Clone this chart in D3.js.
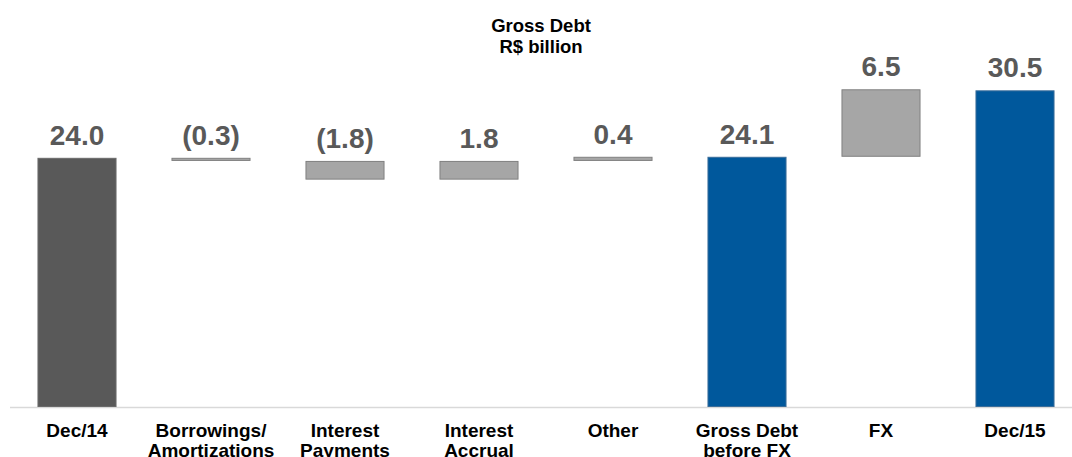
<!DOCTYPE html>
<html>
<head>
<meta charset="utf-8">
<script src="https://cdn.jsdelivr.net/npm/d3@7"></script>
<style>
html,body{margin:0;padding:0;background:#fff;}
svg{display:block;font-family:"Liberation Sans",Arial,sans-serif;}
</style>
</head>
<body>
<svg id="chart" width="1072" height="457"></svg>
<script>
const categories = [["Dec/14"],["Borrowings/","Amortizations"],["Interest","Payments"],["Interest","Accrual"],["Other"],["Gross Debt","before FX"],["FX"],["Dec/15"]];
const values = [24.0, -0.3, -1.8, 1.8, 0.4, 24.1, 6.5, 30.5];
const kinds = ["start","delta","delta","delta","delta","total","delta","total"];
const titleLines = ["Gross Debt","R$ billion"];

const W = 1072, H = 457;
const svg = d3.select("#chart");
const keys = categories.map((c,i)=>"c"+i);

const x = d3.scaleBand().domain(keys).range([10, 1082]).paddingInner(0.41).paddingOuter(0.205);
const y = d3.scaleLinear().domain([0, 39.2]).range([407, 0]);

// compute waterfall segments
let run = 0;
const segs = values.map((v,i)=>{
  let y0, y1;
  if (kinds[i] === "delta") { y0 = run; y1 = run + v; run = y1; }
  else { y0 = 0; y1 = v; run = v; }
  return {key: keys[i], v, kind: kinds[i], lo: Math.min(y0,y1), hi: Math.max(y0,y1)};
});

const fillOf = d => d.kind === "start" ? "#595959" : d.kind === "total" ? "#00589c" : "#a6a6a6";
const strokeOf = d => d.kind === "start" ? "#6a6a6a" : d.kind === "total" ? "#3a6d9a" : "#808080";

// axis baseline
svg.append("line").attr("x1",10).attr("x2",1072).attr("y1",y(0)+0.5).attr("y2",y(0)+0.5)
  .attr("stroke","#d9d9d9").attr("stroke-width",1.5);

svg.selectAll("rect.bar").data(segs).enter().append("rect")
  .attr("class","bar")
  .attr("x", d => x(d.key)+0.5)
  .attr("width", x.bandwidth()-1)
  .attr("y", d => y(d.hi)+0.5)
  .attr("height", d => Math.max(1, y(d.lo)-y(d.hi)-1))
  .attr("fill", fillOf)
  .attr("stroke", strokeOf)
  .attr("stroke-width", 1);

const fmt = v => v < 0 ? "(" + d3.format(".1f")(-v) + ")" : d3.format(".1f")(v);
svg.selectAll("text.val").data(segs).enter().append("text")
  .attr("class","val")
  .attr("x", d => x(d.key) + x.bandwidth()/2)
  .attr("y", d => y(d.hi) - 13)
  .attr("text-anchor","middle")
  .attr("font-size", 28).attr("font-weight","bold").attr("fill","#595959")
  .text(d => fmt(d.v));

// category labels
const cat = svg.selectAll("text.cat").data(categories).enter().append("text")
  .attr("class","cat")
  .attr("x", (d,i) => x(keys[i]) + x.bandwidth()/2)
  .attr("y", 437)
  .attr("text-anchor","middle")
  .attr("font-size", 19).attr("font-weight","bold").attr("fill","#000");
cat.selectAll("tspan").data(d=>d).enter().append("tspan")
  .attr("x", function(){ return d3.select(this.parentNode).attr("x"); })
  .attr("dy", (d,i)=> i===0 ? 0 : 20)
  .text(d=>d);

// title
svg.append("text").attr("x", 541).attr("y", 32).attr("text-anchor","middle")
  .attr("font-size",18.5).attr("font-weight","bold").attr("fill","#000")
  .selectAll("tspan").data(titleLines).enter().append("tspan")
  .attr("x",541).attr("dy",(d,i)=> i===0?0:20.5).text(d=>d);
</script>
</body>
</html>
